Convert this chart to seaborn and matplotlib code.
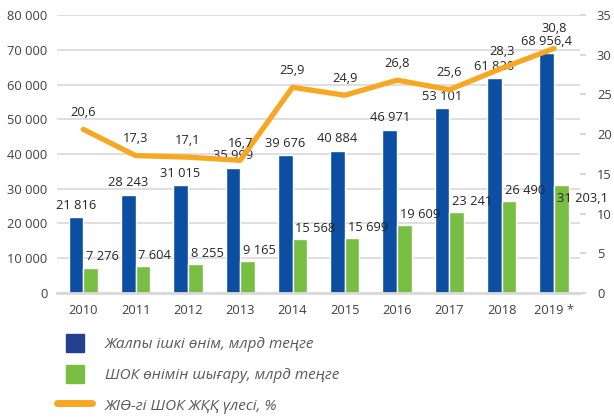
import matplotlib
matplotlib.use("Agg")
import matplotlib.pyplot as plt
import matplotlib.patches as mpatches
from matplotlib.lines import Line2D
from matplotlib.legend_handler import HandlerPatch
import pandas as pd
import seaborn as sns
import numpy as np

# data
years = ['2010', '2011', '2012', '2013', '2014', '2015', '2016', '2017', '2018', '2019 *']
gdp = [21816, 28243, 31015, 35999, 39676, 40884, 46971, 53101, 61820, 68956.4]
sme_output = [7276, 7604, 8255, 9165, 15568, 15699, 19609, 23241, 26490, 31203.1]
sme_share = [20.6, 17.3, 17.1, 16.7, 25.9, 24.9, 26.8, 25.6, 28.3, 30.8]
gdp_labels = ['21 816', '28 243', '31 015', '35 999', '39 676', '40 884', '46 971', '53 101', '61 820', '68 956,4']
sme_labels = ['7 276', '7 604', '8 255', '9 165', '15 568', '15 699', '19 609', '23 241', '26 490', '31 203,1']
share_labels = ['20,6', '17,3', '17,1', '16,7', '25,9', '24,9', '26,8', '25,6', '28,3', '30,8']
series_names = ['Жалпы ішкі өнім, млрд теңге', 'ШОК өнімін шығару, млрд теңге', 'ЖІӨ-гі ШОК ЖҚҚ үлесі, %']

BLUE = '#0B4EA2'
GREEN = '#77BE43'
ORANGE = '#F7A823'
GRID = '#D9D9D9'
FS = 9.3

sns.set_style('white')
plt.rcParams['font.family'] = ['Open Sans', 'DejaVu Sans']

df = pd.DataFrame({
    'year': years * 2,
    'value': gdp + sme_output,
    'series': [series_names[0]] * len(years) + [series_names[1]] * len(years),
})

fig = plt.figure(figsize=(6.14, 4.19), dpi=100)
ax = fig.add_axes([0.093, 0.301, 0.852, 0.663])

sns.barplot(data=df, x='year', y='value', hue='series', palette=[BLUE, GREEN],
            width=0.56, ax=ax, legend=False, saturation=1)

ax.set_ylim(0, 80000)
ax.set_yticks(np.arange(0, 80001, 10000))
ax.set_yticklabels([f'{v:,}'.replace(',', ' ') for v in range(0, 80001, 10000)])
ax.yaxis.grid(True, color=GRID, linewidth=1.2)
ax.set_axisbelow(True)
ax.set_xlabel('')
ax.set_ylabel('')
ax.set_xlim(-0.5, len(years) - 0.5)
for s in ['top', 'right', 'left']:
    ax.spines[s].set_visible(False)
ax.spines['bottom'].set_color(GRID)
ax.spines['bottom'].set_linewidth(2)
ax.tick_params(axis='y', length=0, pad=7, labelsize=FS, labelcolor='#404040')
ax.tick_params(axis='x', length=0, pad=8, labelsize=FS, labelcolor='#404040')

# bar labels
x = np.arange(len(years))
for i in range(len(years)):
    ax.annotate(gdp_labels[i], (x[i] - 0.14, gdp[i]), xytext=(0, 4), textcoords='offset points',
                ha='center', va='bottom', fontsize=FS, color='#262626')
    dy = -15 if i == len(years) - 1 else 3
    ax.annotate(sme_labels[i], (x[i] + 0.0, sme_output[i]), xytext=(2, dy), textcoords='offset points',
                ha='left', va='bottom', fontsize=FS, color='#262626')

# share line on right axis
ax2 = ax.twinx()
sns.lineplot(x=x, y=sme_share, ax=ax2, color=ORANGE, linewidth=3.8, legend=False)
for ln in ax2.lines:
    ln.set_solid_capstyle('round')
    ln.set_solid_joinstyle('round')
ax2.set_ylim(0, 35)
ax2.set_yticks(np.arange(0, 36, 5))
ax2.grid(False)
for s in ['top', 'right', 'left', 'bottom']:
    ax2.spines[s].set_visible(False)
ax2.tick_params(axis='y', direction='out', length=4, width=1.5, color=GRID, pad=8,
                labelsize=FS, labelcolor='#404040')
for i in range(len(years)):
    dy = 9.5 if i == len(years) - 1 else 7.5
    ax2.annotate(share_labels[i], (x[i], sme_share[i]), xytext=(0, dy), textcoords='offset points',
                 ha='center', va='bottom', fontsize=FS, color='#262626')


def square_patch(legend, orig_handle, xdescent, ydescent, width, height, fontsize):
    s = height
    return mpatches.Rectangle((-xdescent + (width - s) / 2, -ydescent), s, s)


handles = [
    mpatches.Patch(color='#253F8F'),
    mpatches.Patch(color=GREEN),
    Line2D([0], [0], color=ORANGE, linewidth=5, solid_capstyle='round'),
]
fig.legend(handles, series_names, loc='upper left', bbox_to_anchor=(0.093, 0.203),
           frameon=False, borderpad=0, borderaxespad=0, handlelength=2.3, handleheight=1.45,
           handletextpad=0.85, labelspacing=0.85,
           prop={'size': 11, 'style': 'italic'}, labelcolor='#595959',
           handler_map={mpatches.Patch: HandlerPatch(patch_func=square_patch)})

fig.savefig('out.png', dpi=100)
